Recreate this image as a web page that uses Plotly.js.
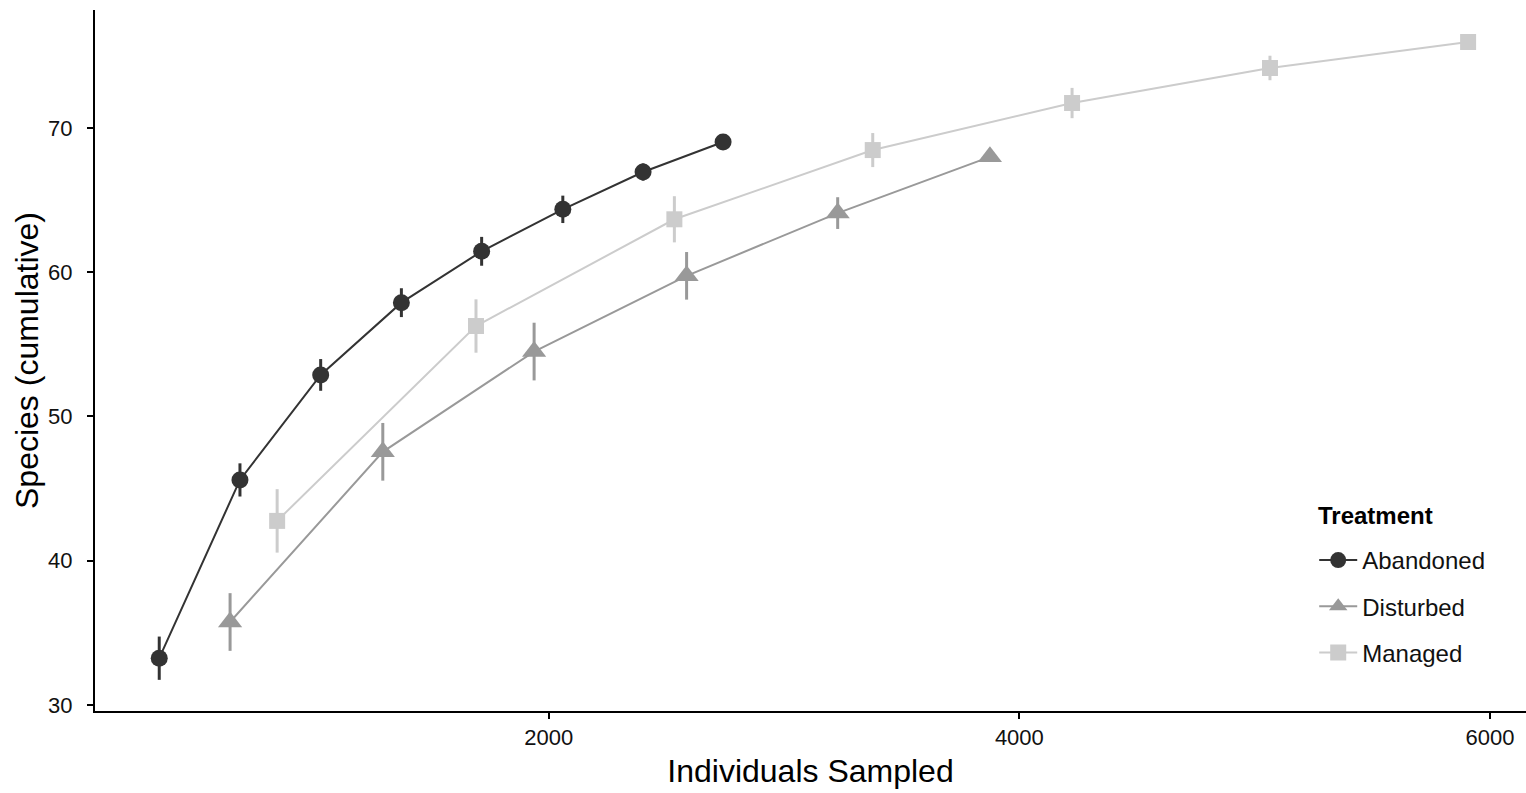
<!DOCTYPE html>
<html>
<head>
<meta charset="utf-8">
<script src="https://cdn.plot.ly/plotly-3.0.1.min.js"></script>
<style>
html,body{margin:0;padding:0;background:#fff;}
#chart{width:1526px;height:793px;}
</style>
</head>
<body>
<div id="chart"></div>
<script>
// Data
const abandonedX = [345, 688, 1031, 1374, 1715, 2060, 2401, 2741];
const abandonedY = [33.24, 45.6, 52.88, 57.89, 61.45, 64.36, 66.95, 69.03];
const abandonedErr = [1.5, 1.15, 1.1, 1.0, 1.0, 0.95, 0.6, 0];

const disturbedX = [646, 1295, 1938, 2586, 3228, 3875];
const disturbedY = [35.75, 47.55, 54.5, 59.75, 64.1, 68.0];
const disturbedErr = [2.0, 2.0, 2.0, 1.65, 1.1, 0];

const managedX = [846, 1691, 2534, 3377, 4224, 5065, 5907];
const managedY = [42.76, 56.27, 63.67, 68.47, 71.73, 74.16, 75.96];
const managedErr = [2.2, 1.85, 1.6, 1.18, 1.05, 0.85, 0];

const seriesNames = ["Abandoned", "Disturbed", "Managed"];
const legendTitle = "Treatment";
const xTicks = [2000, 4000, 6000];
const yTicks = [30, 40, 50, 60, 70];

function mk(name, x, y, err, color, symbol, size) {
  return {
    type: "scatter", mode: "lines+markers", name: name, legendgroup: name,
    x: x, y: y,
    line: {color: color, width: 2},
    marker: {color: color, symbol: symbol, size: size},
    error_y: {type: "data", array: err, visible: true, color: color, thickness: 3, width: 0}
  };
}

const traces = [
  mk(seriesNames[0], abandonedX, abandonedY, abandonedErr, "#333333", "circle", 17),
  mk(seriesNames[1], disturbedX, disturbedY, disturbedErr, "#999999", "triangle-up", 21),
  mk(seriesNames[2], managedX, managedY, managedErr, "#cccccc", "square", 16)
];

const font = "Liberation Sans, Arial, sans-serif";
const layout = {
  width: 1526, height: 793,
  margin: {l: 95, r: 0, t: 10, b: 82, pad: 0},
  paper_bgcolor: "#ffffff", plot_bgcolor: "#ffffff",
  font: {family: font, color: "#000"},
  showlegend: true,
  legend: {
    x: 0.852, xanchor: "left", y: 0.2468, yanchor: "top",
    font: {size: 24, family: font, color: "#111"},
    itemwidth: 38, itemsizing: "trace",
    traceorder: "grouped", tracegroupgap: 12,
    bgcolor: "rgba(0,0,0,0)", borderwidth: 0
  },
  annotations: [{
    text: "<b>" + legendTitle + "</b>", xref: "paper", yref: "paper",
    x: 0.8533, y: 0.2796, xanchor: "left", yanchor: "middle", showarrow: false,
    font: {size: 24, family: font, color: "#000"}
  }],
  xaxis: {
    range: [72, 6153], tickvals: xTicks, ticktext: xTicks.map(String),
    showgrid: false, zeroline: false,
    showline: true, linecolor: "#000", linewidth: 2,
    ticks: "outside", ticklen: 6, tickwidth: 2, tickcolor: "#000",
    tickfont: {size: 22, family: font, color: "#111"},
    title: {text: "Individuals Sampled", font: {size: 32, family: font, color: "#000"}, standoff: 10},
    automargin: false
  },
  yaxis: {
    range: [29.58, 78.18], tickvals: yTicks, ticktext: yTicks.map(String),
    showgrid: false, zeroline: false,
    showline: true, linecolor: "#000", linewidth: 2,
    ticks: "outside", ticklen: 6, tickwidth: 2, tickcolor: "#000",
    tickfont: {size: 22, family: font, color: "#111"},
    ticklabelstandoff: 10,
    title: {text: "Species (cumulative)", font: {size: 32, family: font, color: "#000"}, standoff: 0},
    automargin: false
  }
};

Plotly.newPlot("chart", traces, layout, {displayModeBar: false, staticPlot: true});
</script>
</body>
</html>
